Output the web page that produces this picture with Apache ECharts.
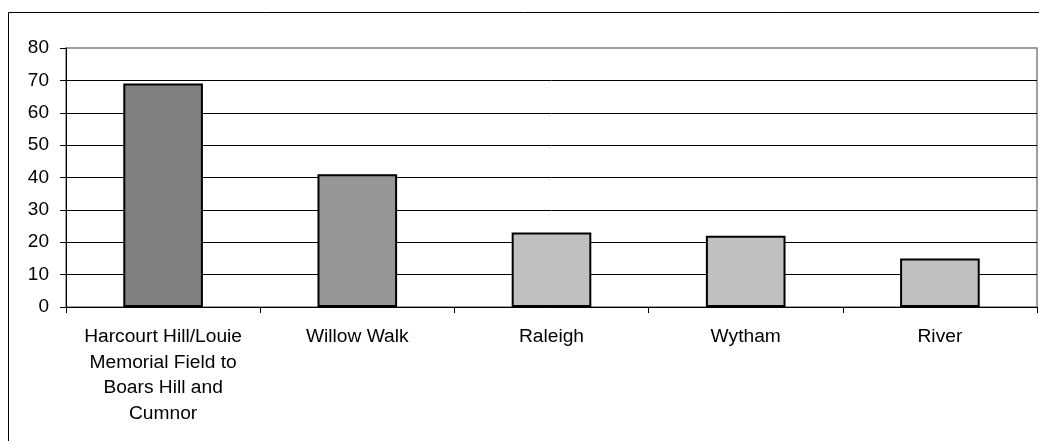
<!DOCTYPE html>
<html>
<head>
<meta charset="utf-8">
<script src="https://cdn.jsdelivr.net/npm/echarts@6/dist/echarts.min.js"></script>
<style>html,body{margin:0;padding:0;background:#fff}#c{width:1039px;height:441px}</style>
</head>
<body>
<div id="c"></div>
<script>
const categories = ["Harcourt Hill/Louie\nMemorial Field to\nBoars Hill and\nCumnor", "Willow Walk", "Raleigh", "Wytham", "River"];
const values = [69, 41, 23, 22, 15];
const barColors = ["#808080", "#969696", "#C0C0C0", "#C0C0C0", "#C0C0C0"];
const yTicks = { min: 0, max: 80, interval: 10 };

const chart = echarts.init(document.getElementById('c'), null, { renderer: 'canvas' });
const font = '"Liberation Sans", Arial, sans-serif';
chart.setOption({
  animation: false,
  backgroundColor: '#fff',
  graphic: [{
    type: 'rect', silent: true, z: -10,
    shape: { x: 8.5, y: 12.5, width: 1200, height: 600 },
    style: { fill: 'none', stroke: '#000', lineWidth: 1 }
  }],
  grid: { left: 66, right: 2, top: 48, bottom: 134, show: true, borderColor: '#808080', borderWidth: 1.5, backgroundColor: 'transparent' },
  xAxis: {
    type: 'category', data: categories,
    axisLine: { lineStyle: { color: '#000', width: 1 } },
    axisTick: { show: true, length: 6, alignWithLabel: false, lineStyle: { color: '#000' } },
    axisLabel: { interval: 0, margin: 17, fontFamily: font, fontSize: 19.2, color: '#000', lineHeight: 25.5 },
    splitLine: { show: false }
  },
  yAxis: {
    type: 'value', min: yTicks.min, max: yTicks.max, interval: yTicks.interval,
    axisLine: { show: true, lineStyle: { color: '#000', width: 1 } },
    axisTick: { show: true, length: 6, lineStyle: { color: '#000' } },
    axisLabel: { margin: 17, fontFamily: font, fontSize: 19, color: '#000' },
    splitLine: { show: true, showMaxLine: false, lineStyle: { color: '#000', width: 1 } }
  },
  series: [{
    type: 'bar', data: values.map((v, i) => ({ value: v, itemStyle: { color: barColors[i] } })),
    barWidth: '41%',
    itemStyle: { borderColor: '#000', borderWidth: 2 }
  }]
});
</script>
</body>
</html>
